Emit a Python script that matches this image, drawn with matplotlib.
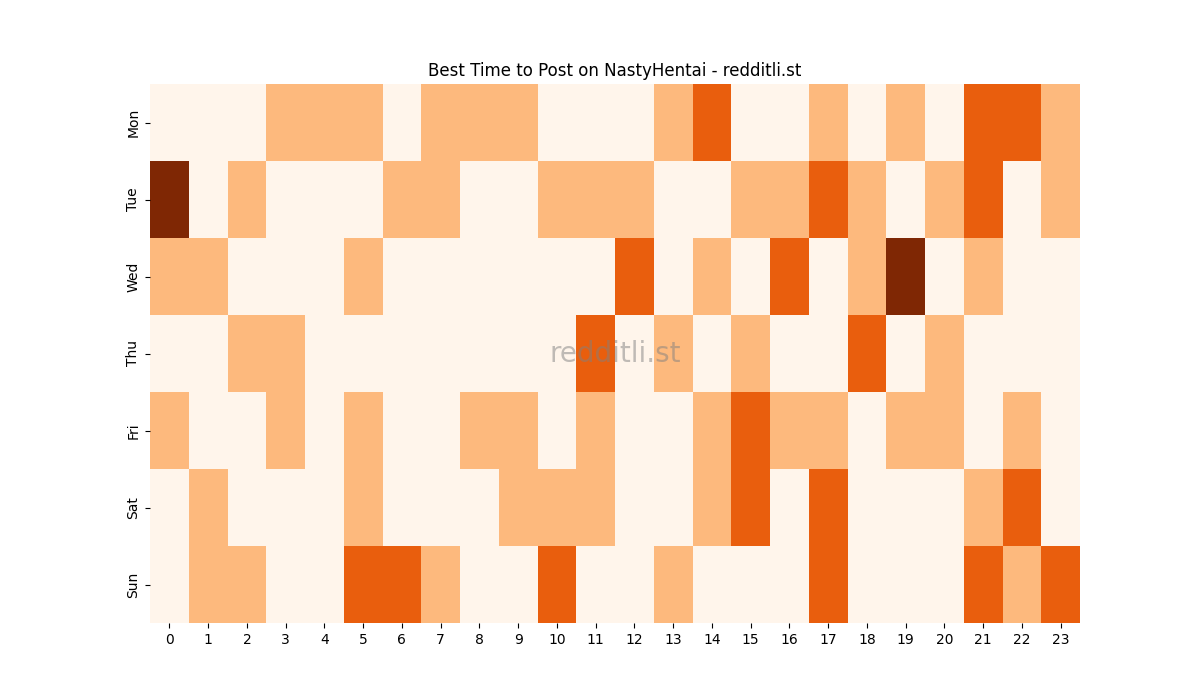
import matplotlib
matplotlib.use('Agg')
import matplotlib.pyplot as plt
import numpy as np

# activity level per day (rows) and hour (columns)
days = ['Mon', 'Tue', 'Wed', 'Thu', 'Fri', 'Sat', 'Sun']
hours = [str(h) for h in range(24)]
mon = [0, 0, 0, 1, 1, 1, 0, 1, 1, 1, 0, 0, 0, 1, 2, 0, 0, 1, 0, 1, 0, 2, 2, 1]
tue = [3, 0, 1, 0, 0, 0, 1, 1, 0, 0, 1, 1, 1, 0, 0, 1, 1, 2, 1, 0, 1, 2, 0, 1]
wed = [1, 1, 0, 0, 0, 1, 0, 0, 0, 0, 0, 0, 2, 0, 1, 0, 2, 0, 1, 3, 0, 1, 0, 0]
thu = [0, 0, 1, 1, 0, 0, 0, 0, 0, 0, 0, 2, 0, 1, 0, 1, 0, 0, 2, 0, 1, 0, 0, 0]
fri = [1, 0, 0, 1, 0, 1, 0, 0, 1, 1, 0, 1, 0, 0, 1, 2, 1, 1, 0, 1, 1, 0, 1, 0]
sat = [0, 1, 0, 0, 0, 1, 0, 0, 0, 1, 1, 1, 0, 0, 1, 2, 0, 2, 0, 0, 0, 1, 2, 0]
sun = [0, 1, 1, 0, 0, 2, 2, 1, 0, 0, 2, 0, 0, 1, 0, 0, 0, 2, 0, 0, 0, 2, 1, 2]

grid = np.array([mon, tue, wed, thu, fri, sat, sun])

fig, ax = plt.subplots(figsize=(12, 7), dpi=100)
ax.pcolormesh(grid, cmap='Oranges', vmin=0, vmax=3)
ax.set_xlim(0, len(hours))
ax.set_ylim(len(days), 0)
ax.set_xticks(np.arange(len(hours)) + 0.5)
ax.set_xticklabels(hours)
ax.set_yticks(np.arange(len(days)) + 0.5)
ax.set_yticklabels(days, rotation=90, va='center')
for s in ax.spines.values():
    s.set_visible(False)
ax.set_title('Best Time to Post on NastyHentai - redditli.st', fontsize=12)

# watermark
ax.text(0.5, 0.5, 'redditli.st', transform=ax.transAxes, fontsize=20,
        color='gray', alpha=0.5, ha='center', va='center')

plt.savefig('out.png')
